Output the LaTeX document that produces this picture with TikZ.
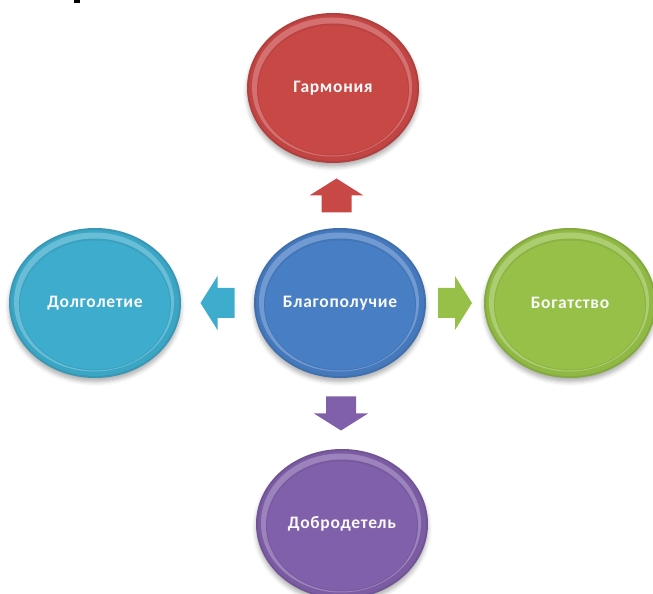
\documentclass[tikz,border=0pt]{standalone}
\usepackage{fontspec}
\newfontfamily\orbfamily[LetterSpace=4]{Carlito}
\usetikzlibrary{shapes.geometric,shadows.blur,calc}
\definecolor{redA}{RGB}{200,72,70}
\definecolor{blueA}{RGB}{72,126,196}
\definecolor{greenA}{RGB}{150,192,72}
\definecolor{purpleA}{RGB}{128,96,170}
\definecolor{cyanA}{RGB}{62,172,204}
\tikzset{
  orb/.style={ellipse, minimum width=172pt, minimum height=150pt, inner sep=0pt,
    text=white!95!gray, font=\orbfamily\bfseries\fontsize{17.5}{20}\selectfont,
    fill=#1!88!black,
    blur shadow={shadow xshift=0pt, shadow yshift=-4pt, shadow blur radius=4pt, shadow opacity=30},
    path picture={
      \coordinate (pc) at (path picture bounding box.center);
      \fill[#1!96!black] (pc) ellipse (84pt and 73pt);
      \fill[#1!78!white] ([xshift=-1pt,yshift=1pt]pc) ellipse (80pt and 69.5pt);
      \fill[#1!93!black] ([yshift=-1.5pt]pc) ellipse (76pt and 66pt);
      \fill[#1] ([yshift=-2pt]pc) ellipse (75pt and 64.5pt);
    }},
  blockarrow/.pic={\fill[pic actions] (-17,-15) -- (0,-15) -- (0,-27) -- (17,0) -- (0,27) -- (0,15) -- (-17,15) -- cycle;}
}
\begin{document}
\begin{tikzpicture}[x=1pt,y=1pt]
\useasboundingbox (0,0) rectangle (653,594);
\fill (74,591) rectangle (80,594);
\node[orb=blueA] (c) at (340,291) {Благополучие};
\node[orb=redA] (h) at (333,506) {Гармония};
\node[orb=cyanA] (l) at (95,291) {Долголетие};
\node[orb=greenA] (r) at (570,291) {Богатство};
\node[orb=purpleA] (b) at (342,70) {Добродетель};
\pic[fill=redA, rotate=90] at ($(c.north)!0.5!(h.south)$) {blockarrow};
\pic[fill=cyanA, rotate=180] at ($(c.west)!0.5!(l.east)$) {blockarrow};
\pic[fill=greenA] at ($(c.east)!0.5!(r.west)$) {blockarrow};
\pic[fill=purpleA, rotate=-90] at ($(c.south)!0.5!(b.north)$) {blockarrow};
\end{tikzpicture}
\end{document}
